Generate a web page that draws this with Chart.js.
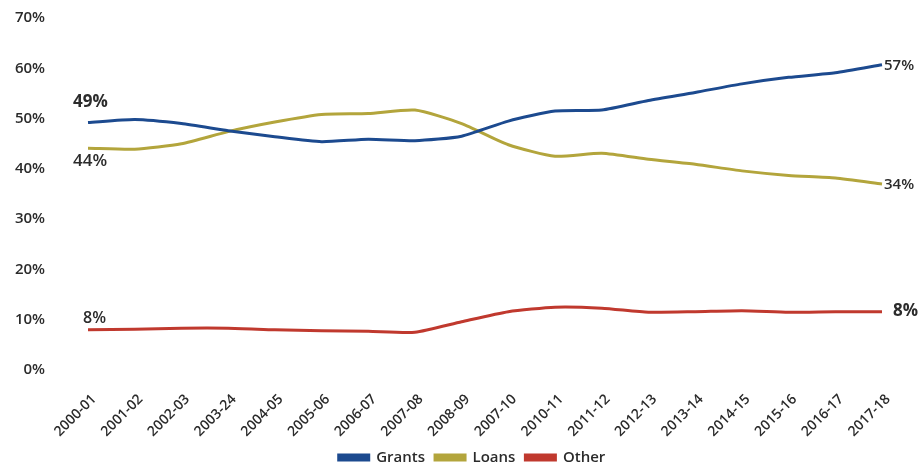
<!DOCTYPE html>
<html>
<head>
<meta charset="utf-8">
<script src="https://cdn.jsdelivr.net/npm/chart.js@4.4.1/dist/chart.umd.min.js"></script>
<style>
  html, body { margin: 0; padding: 0; background: #fff; }
  #wrap { width: 921px; height: 467px; }
</style>
</head>
<body>
<div id="wrap"><canvas id="funding" width="921" height="467"></canvas></div>
<script>
const years = ['2000-01','2001-02','2002-03','2003-24','2004-05','2005-06','2006-07','2007-08','2008-09',
  '2007-10','2010-11','2011-12','2012-13','2013-14','2014-15','2015-16','2016-17','2017-18'];
const grants = [49.2, 49.8, 49.0, 47.6, 46.4, 45.4, 45.9, 45.6, 46.5, 49.5, 51.5, 51.7, 53.6, 55.2, 56.9, 58.2, 59.1, 60.7];
const loans  = [44.1, 43.9, 45.0, 47.4, 49.3, 50.8, 51.0, 51.7, 49.0, 44.8, 42.5, 43.1, 41.9, 40.9, 39.6, 38.7, 38.2, 37.0];
const other  = [8.0, 8.1, 8.3, 8.3, 8.0, 7.8, 7.7, 7.5, 9.6, 11.6, 12.5, 12.3, 11.5, 11.6, 11.8, 11.5, 11.6, 11.6];
const yTicks = [0, 10, 20, 30, 40, 50, 60, 70];

// text labels shown at the ends of the lines
const startLabels = ['49%', '44%', '8%'];
const endLabels = ['57%', '34%', '8%'];

(function(){
    const ctx = document.getElementById("funding").getContext("2d");

    const lineLabels = {
        id: 'lineLabels',
        afterLayout(chart){
            // legend sits a bit right of the canvas centre in the original
            chart.legend.left += 31;
            chart.legend.right += 31;
        },
        afterDatasetsDraw(chart){
            const c = chart.ctx;
            const last = years.length - 1;
            // offsets for the text next to the first / last point
            const startOff = [[-15, -20, 'bold 17px "Open Sans"'], [-15, 13, '600 17px "Open Sans"'], [-5, -11, '600 16px "Open Sans"']];
            const endOff = [[2, 1, '600 15px "Open Sans"'], [2, 1, '600 15px "Open Sans"'], [11, -1, 'bold 17px "Open Sans"']];
            c.save();
            c.fillStyle = '#2b2b2b';
            c.textBaseline = 'middle';
            c.textAlign = 'left';
            chart.data.datasets.forEach((ds, i) => {
                const meta = chart.getDatasetMeta(i);
                const p0 = meta.data[0];
                const p1 = meta.data[last];
                c.font = startOff[i][2];
                c.fillText(startLabels[i], p0.x + startOff[i][0], p0.y + startOff[i][1]);
                c.font = endOff[i][2];
                c.fillText(endLabels[i], p1.x + endOff[i][0], p1.y + endOff[i][1]);
            });
            c.restore();
        }
    };

    const chart_funding = new Chart(ctx, {
        type: 'line',
        data: {
            labels: years,
            datasets: [{
                label: 'Grants',
                data: grants,
                borderColor: '#1c4a8f',
                backgroundColor: '#1c4a8f'
            }, {
                label: 'Loans',
                data: loans,
                borderColor: '#b3a53c',
                backgroundColor: '#b3a53c'
            }, {
                label: 'Other',
                data: other,
                borderColor: '#c0392e',
                backgroundColor: '#c0392e'
            }]
        },
        options: {
            responsive: false,
            animation: false,
            layout: { padding: { top: 18, right: 39, left: 0, bottom: -8 } },
            elements: {
                line: { borderWidth: 3, tension: 0.2 },
                point: { radius: 0 }
            },
            plugins: {
                tooltip: { enabled: false },
                legend: {
                    position: 'bottom',
                    labels: {
                        boxWidth: 30,
                        boxHeight: 5,
                        padding: 10,
                        color: '#2b2b2b',
                        font: { family: '"Open Sans"', size: 15, weight: '600' }
                    }
                }
            },
            scales: {
                x: {
                    grid: { display: false },
                    border: { display: false },
                    ticks: {
                        maxRotation: 45,
                        minRotation: 45,
                        autoSkip: false,
                        padding: 13,
                        labelOffset: 6,
                        color: '#2b2b2b',
                        font: { family: '"Open Sans"', size: 14, weight: '600' }
                    },
                    afterFit: (scale) => { scale.height = 70; }
                },
                y: {
                    min: 0,
                    max: 70,
                    afterBuildTicks: (scale) => { scale.ticks = yTicks.map(v => ({ value: v })); },
                    grid: { display: false },
                    border: { display: false },
                    ticks: {
                        padding: 35,
                        color: '#2b2b2b',
                        font: { family: '"Open Sans"', size: 15, weight: '600' },
                        callback: (v) => v + '%'
                    },
                    afterFit: (scale) => {
                        scale.width = 88;
                        scale.paddingTop = 8;
                        scale.paddingBottom = 8;
                    }
                }
            }
        },
        plugins: [lineLabels]
    });
}())
</script>
</body>
</html>
